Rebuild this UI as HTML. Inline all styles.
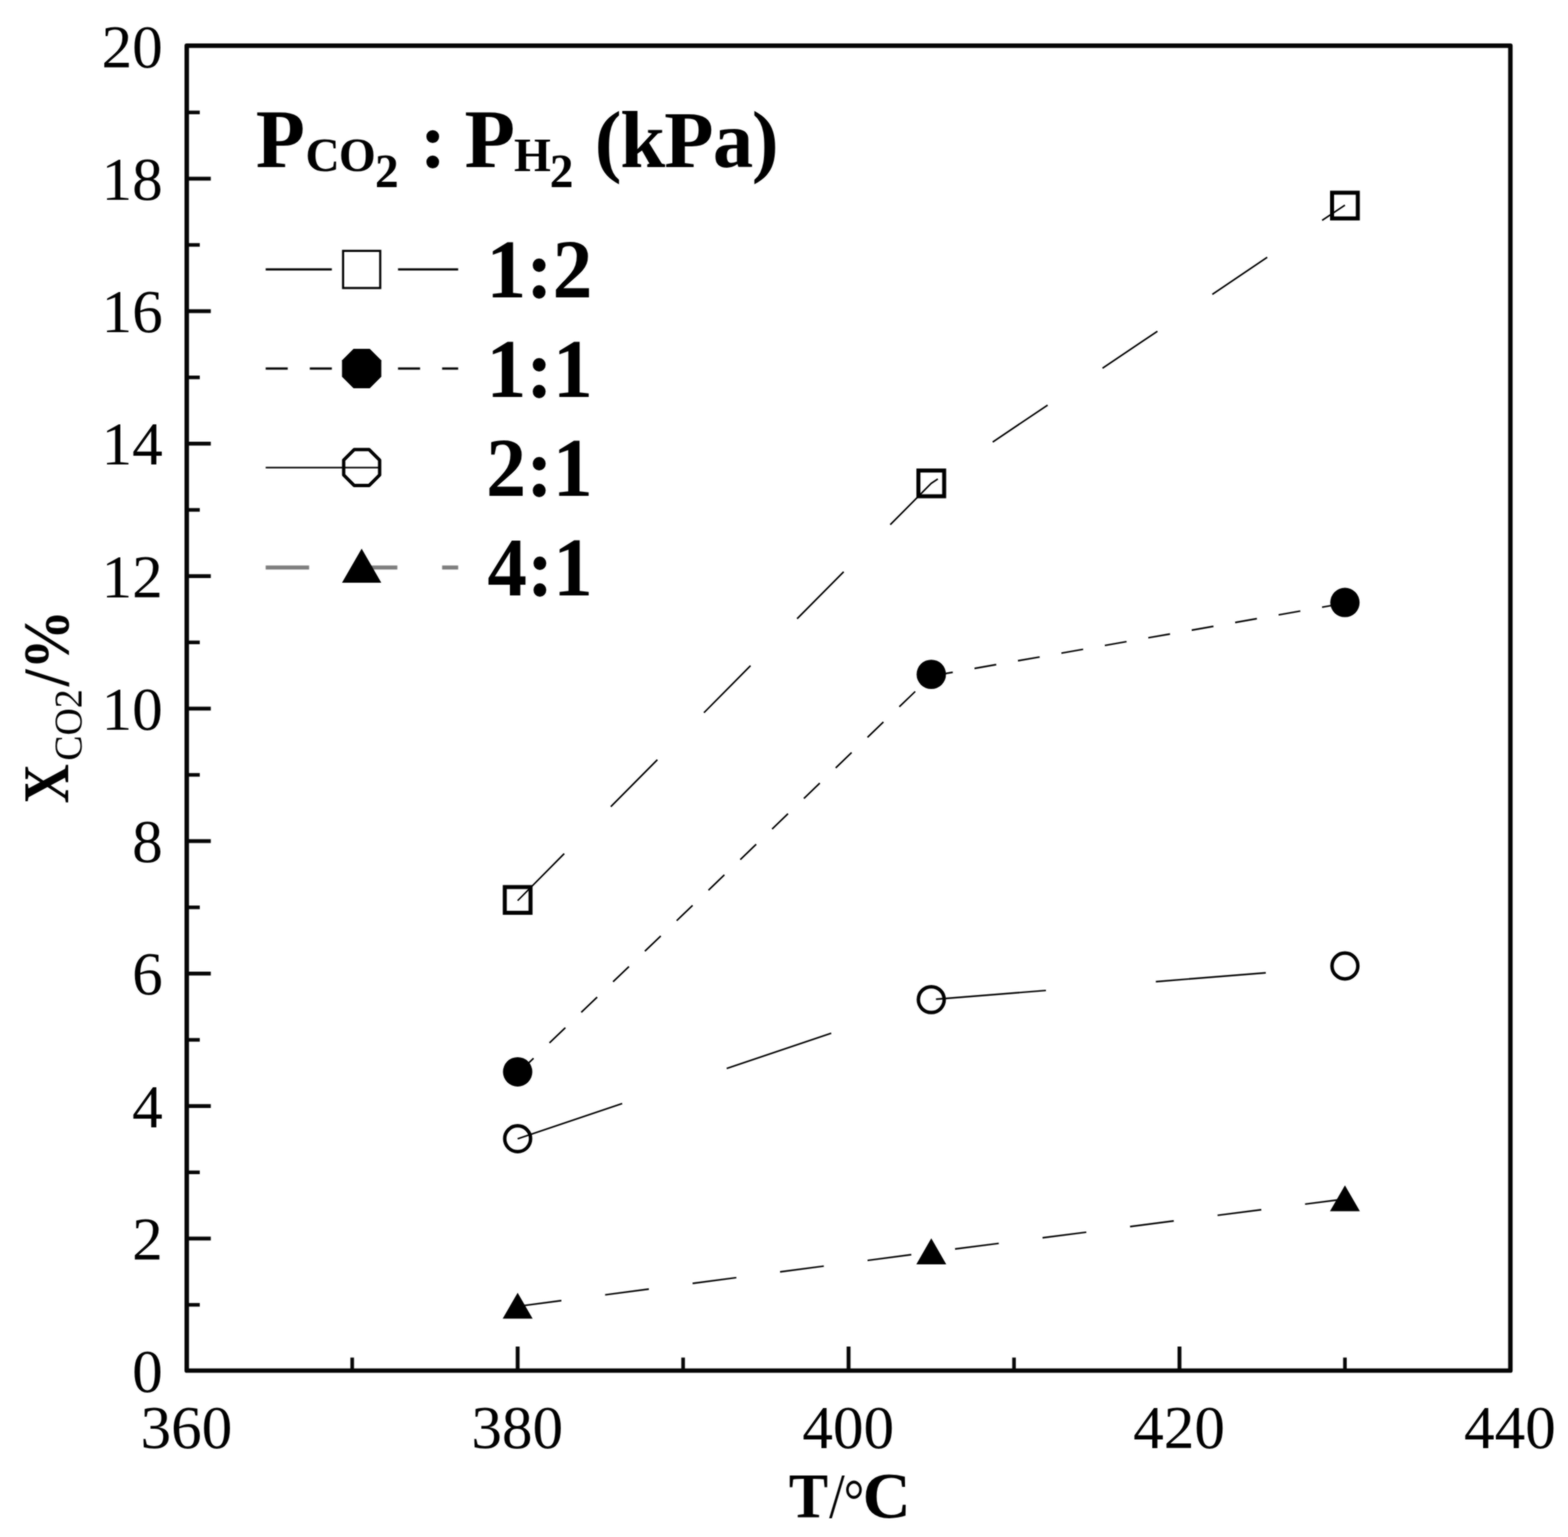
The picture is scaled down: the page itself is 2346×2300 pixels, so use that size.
<!DOCTYPE html>
<html lang="en"><head><meta charset="utf-8">
<title>CO2 conversion vs temperature</title>
<style>
html,body{margin:0;padding:0;background:#fff;}
body{width:2346px;height:2300px;}
svg{display:block;}
text{font-family:"Liberation Serif", serif;fill:#000;}
.tk{font-size:91.5px;}
.b{font-weight:bold;}
</style></head><body>
<svg width="2346" height="2300" viewBox="0 0 2346 2300">
<defs><filter id="soft" x="0" y="0" width="2346" height="2300" filterUnits="userSpaceOnUse" color-interpolation-filters="sRGB"><feGaussianBlur in="SourceGraphic" stdDeviation="1" result="blur"/><feComposite in="SourceGraphic" in2="blur" operator="arithmetic" k1="0" k2="0.35" k3="0.65" k4="0"/></filter></defs>
<rect x="0" y="0" width="2346" height="2300" fill="#ffffff"/>
<g id="chart" filter="url(#soft)">
<rect x="0" y="0" width="2346" height="2300" fill="#ffffff"/>
<g id="axes" stroke="#050505" stroke-width="6.70" fill="none" stroke-linecap="butt">
<rect x="279.40" y="68.40" width="1980.40" height="1982.60" stroke-linejoin="round"/>
<line x1="279.40" y1="1952.57" x2="298.90" y2="1952.57" stroke-width="5.40"/>
<line x1="279.40" y1="1853.44" x2="315.40" y2="1853.44" stroke-width="5.80"/>
<line x1="279.40" y1="1754.31" x2="298.90" y2="1754.31" stroke-width="5.40"/>
<line x1="279.40" y1="1655.18" x2="315.40" y2="1655.18" stroke-width="5.80"/>
<line x1="279.40" y1="1556.05" x2="298.90" y2="1556.05" stroke-width="5.40"/>
<line x1="279.40" y1="1456.92" x2="315.40" y2="1456.92" stroke-width="5.80"/>
<line x1="279.40" y1="1357.79" x2="298.90" y2="1357.79" stroke-width="5.40"/>
<line x1="279.40" y1="1258.66" x2="315.40" y2="1258.66" stroke-width="5.80"/>
<line x1="279.40" y1="1159.53" x2="298.90" y2="1159.53" stroke-width="5.40"/>
<line x1="279.40" y1="1060.40" x2="315.40" y2="1060.40" stroke-width="5.80"/>
<line x1="279.40" y1="961.27" x2="298.90" y2="961.27" stroke-width="5.40"/>
<line x1="279.40" y1="862.14" x2="315.40" y2="862.14" stroke-width="5.80"/>
<line x1="279.40" y1="763.01" x2="298.90" y2="763.01" stroke-width="5.40"/>
<line x1="279.40" y1="663.88" x2="315.40" y2="663.88" stroke-width="5.80"/>
<line x1="279.40" y1="564.75" x2="298.90" y2="564.75" stroke-width="5.40"/>
<line x1="279.40" y1="465.62" x2="315.40" y2="465.62" stroke-width="5.80"/>
<line x1="279.40" y1="366.49" x2="298.90" y2="366.49" stroke-width="5.40"/>
<line x1="279.40" y1="267.36" x2="315.40" y2="267.36" stroke-width="5.80"/>
<line x1="279.40" y1="168.23" x2="298.90" y2="168.23" stroke-width="5.40"/>
<line x1="526.95" y1="2051.00" x2="526.95" y2="2031.50" stroke-width="5.40"/>
<line x1="774.50" y1="2051.00" x2="774.50" y2="2015.00" stroke-width="5.80"/>
<line x1="1022.05" y1="2051.00" x2="1022.05" y2="2031.50" stroke-width="5.40"/>
<line x1="1269.60" y1="2051.00" x2="1269.60" y2="2015.00" stroke-width="5.80"/>
<line x1="1517.15" y1="2051.00" x2="1517.15" y2="2031.50" stroke-width="5.40"/>
<line x1="1764.70" y1="2051.00" x2="1764.70" y2="2015.00" stroke-width="5.80"/>
<line x1="2012.25" y1="2051.00" x2="2012.25" y2="2031.50" stroke-width="5.40"/>
</g>
<g id="ylabels" class="tk" text-anchor="end">
<text x="243.60" y="2083.20">0</text>
<text x="243.60" y="1884.94">2</text>
<text x="243.60" y="1686.68">4</text>
<text x="243.60" y="1488.42">6</text>
<text x="243.60" y="1290.16">8</text>
<text x="243.60" y="1091.90">10</text>
<text x="243.60" y="893.64">12</text>
<text x="243.60" y="695.38">14</text>
<text x="243.60" y="497.12">16</text>
<text x="243.60" y="298.86">18</text>
<text x="243.60" y="100.60">20</text>
</g>
<g id="xlabels" class="tk" text-anchor="middle">
<text x="278.80" y="2166.80">360</text>
<text x="773.90" y="2166.80">380</text>
<text x="1269.00" y="2166.80">400</text>
<text x="1764.10" y="2166.80">420</text>
<text x="2259.20" y="2166.80">440</text>
</g>
<text id="xtitle" class="b"><tspan x="1180.18" y="2271" font-size="96" textLength="58.7" lengthAdjust="spacingAndGlyphs">T</tspan><tspan x="1240.6" y="2271" font-size="96" font-weight="normal" textLength="23.33" lengthAdjust="spacingAndGlyphs">/</tspan><tspan x="1262.23" y="2275.6" font-size="90" font-weight="normal" textLength="30.94" lengthAdjust="spacingAndGlyphs">°</tspan><tspan x="1290.4" y="2271.2" font-size="96.5" textLength="72.22" lengthAdjust="spacingAndGlyphs">C</tspan></text>
<text id="ytitle" transform="translate(0 2300) rotate(-90)"><tspan x="1097.78" y="102.4" font-size="98" font-weight="bold" textLength="58.71" lengthAdjust="spacingAndGlyphs">X</tspan><tspan x="1161.64" y="122" font-size="60" textLength="106.93" lengthAdjust="spacingAndGlyphs">CO2</tspan><tspan x="1273.19" y="101.8" font-size="97" font-weight="bold" textLength="114.34" lengthAdjust="spacingAndGlyphs">/%</tspan></text>
<g id="series">
<polyline points="774.50,1347.78 1393.38,723.26 2012.25,306.91" fill="none" stroke="#000" stroke-width="2.40" stroke-dasharray="99.00 99.00"/>
<polyline points="774.50,1606.41 1393.38,1011.63 2012.25,902.59" fill="none" stroke="#000" stroke-width="2.40" stroke-dasharray="33.00 33.00"/>
<polyline points="774.50,1704.05 1393.38,1495.87 2012.25,1446.31" fill="none" stroke="#000" stroke-width="2.40" stroke-dasharray="165.00 165.00"/>
<polyline points="774.50,1954.83 1393.38,1873.54 2012.25,1794.24" fill="none" stroke="#000" stroke-width="2.40" stroke-dasharray="66.00 66.00"/>
<rect x="755.25" y="1327.43" width="38.50" height="38.50" fill="none" stroke="#000" stroke-width="6.00"/>
<rect x="1374.12" y="704.11" width="38.50" height="38.50" fill="none" stroke="#000" stroke-width="6.00"/>
<rect x="1993.00" y="288.36" width="38.50" height="38.50" fill="none" stroke="#000" stroke-width="6.00"/>
<circle cx="774.50" cy="1603.91" r="21.97" fill="#000"/>
<circle cx="1393.38" cy="1009.13" r="21.97" fill="#000"/>
<circle cx="2012.25" cy="901.59" r="21.97" fill="#000"/>
<circle cx="774.50" cy="1704.05" r="19.34" fill="none" stroke="#000" stroke-width="5.20"/>
<circle cx="1393.38" cy="1495.87" r="19.34" fill="none" stroke="#000" stroke-width="5.20"/>
<circle cx="2012.25" cy="1445.51" r="19.34" fill="none" stroke="#000" stroke-width="5.20"/>
<polygon points="774.50,1934.41 796.90,1973.21 752.10,1973.21" fill="#000"/>
<polygon points="1393.38,1853.12 1415.78,1891.92 1370.97,1891.92" fill="#000"/>
<polygon points="2012.25,1773.82 2034.65,1812.62 1989.85,1812.62" fill="#000"/>
</g>
<g id="legend">
<text id="legend-title" class="b"><tspan x="382.69" y="250.1" font-size="124.6" textLength="73.52" lengthAdjust="spacingAndGlyphs">P</tspan><tspan x="456.88 507.01 561.1 596.6" y="256.2 256.2 279.8 279.8" font-size="71">CO2 </tspan><tspan x="628.33 667.62" y="250.1 250.1" font-size="118">: </tspan><tspan x="695.03" y="250.1" font-size="124.6" textLength="75.57" lengthAdjust="spacingAndGlyphs">P</tspan><tspan x="769.01 822.55 858.05" y="256.3 279.8 279.8" font-size="71">H2 </tspan><tspan x="889.83 927.91 993.75 1066.54 1124.64" y="250.1 250.1 250.1 250.1 250.1" font-size="121">(kPa)</tspan></text>
<line x1="397.50" y1="403.20" x2="685.50" y2="403.20" stroke="#000" stroke-width="3.30" stroke-dasharray="99.00 99.00"/>
<rect x="513.30" y="375.40" width="55.60" height="55.60" fill="none" stroke="#000" stroke-width="3.20"/>
<text class="b" x="727.67" y="445.33" font-size="124.58" textLength="158.75" lengthAdjust="spacingAndGlyphs">1:2</text>
<line x1="397.50" y1="551.50" x2="685.50" y2="551.50" stroke="#0a0a0a" stroke-width="3.30" stroke-dasharray="33.00 33.00"/>
<polygon points="570.50,563.68 553.28,580.90 528.92,580.90 511.70,563.68 511.70,539.32 528.92,522.10 553.28,522.10 570.50,539.32" fill="#000"/>
<text class="b" x="727.64" y="593.82" font-size="125.04" textLength="159.29" lengthAdjust="spacingAndGlyphs">1:1</text>
<line x1="397.50" y1="699.70" x2="685.50" y2="699.70" stroke="#101010" stroke-width="2.60" stroke-dasharray="169.00 165.00"/>
<polygon points="568.00,710.84 552.24,726.60 529.96,726.60 514.20,710.84 514.20,688.56 529.96,672.80 552.24,672.80 568.00,688.56" fill="none" stroke="#000" stroke-width="5.00" stroke-linejoin="round"/>
<text class="b" x="727.31" y="742.33" font-size="124.58" textLength="159.75" lengthAdjust="spacingAndGlyphs">2:1</text>
<line x1="397.50" y1="849.20" x2="685.50" y2="849.20" stroke="#7e7e7e" stroke-width="6.00" stroke-dasharray="65.00 67.00"/>
<polygon points="541.10,821.09 570.50,872.02 511.70,872.02" fill="#000"/>
<text class="b" x="729.32" y="890.82" font-size="125.04" textLength="157.65" lengthAdjust="spacingAndGlyphs">4:1</text>
</g>
</g>
</svg>
</body></html>
